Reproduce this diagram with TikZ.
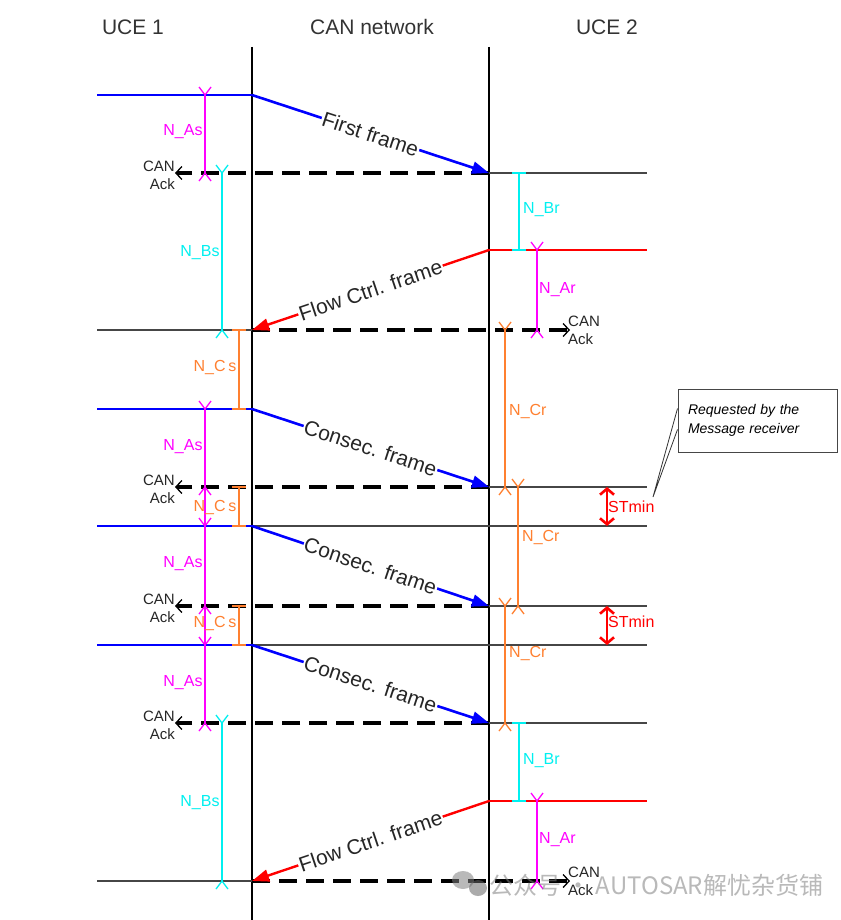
\documentclass[tikz,border=0pt]{standalone}
\usepackage{fontspec}
\setmainfont{Liberation Sans}
\newfontfamily\cjkfont{Noto Sans CJK SC}
\usetikzlibrary{arrows.meta}
\definecolor{ncor}{RGB}{255,128,48}
\definecolor{nmag}{RGB}{255,0,255}
\definecolor{ncy}{RGB}{0,240,240}
\definecolor{thinline}{RGB}{70,70,70}
\tikzset{
  armsup/.pic={\draw (-6,-8) -- (0,0) -- (6,-8);},
  armsdn/.pic={\draw (-6,8) -- (0,0) -- (6,8);},
  flatbar/.pic={\draw[line width=2pt] (-7,0) -- (7,0);},
}
\begin{document}
\begin{tikzpicture}[x=1pt,y=-1pt,
  lifeline/.style={line width=2.6pt, black},
  gline/.style={line width=1.3pt, thinline},
  bline/.style={line width=2.6pt, blue},
  rline/.style={line width=2.4pt, red},
  bmsg/.style={line width=2.6pt, blue, -{Triangle[length=17pt,width=12pt]}},
  rmsg/.style={line width=2.4pt, red, -{Triangle[length=17pt,width=12pt]}},
  ack/.style={line width=3.6pt, black, dash pattern=on 18pt off 9pt, -{Straight Barb[length=6pt,width=13pt,line width=1.3pt]}},
  msglabel/.style={midway, sloped, fill=white, text=black!85, inner sep=1pt, font=\fontsize{21}{23}\selectfont},
  tbar/.style={line width=1.3pt},
  lbl/.style={font=\fontsize{16}{18}\selectfont, inner sep=0pt},
  acklbl/.style={font=\fontsize{15}{18}\selectfont, inner sep=0pt, text=black!85},
  head/.style={font=\fontsize{21}{23}\selectfont, text=black!80},
  stmin/.style={red, line width=2.6pt, {Straight Barb[length=6pt,width=14pt]}-{Straight Barb[length=6pt,width=14pt]}},
  callout/.style={draw=thinline, line width=1pt, minimum width=159pt, minimum height=63pt, inner xsep=10pt, text width=139pt, align=left, font=\itshape\fontsize{14}{19}\selectfont},
]
\useasboundingbox (0,0) rectangle (840,920);
\fill[white] (0,0) rectangle (840,920);

% headers
\node[head] (h1) at (133,27) {UCE 1};
\node[head] (h2) at (372,27) {CAN network};
\node[head] (h3) at (607,27) {UCE 2};

% lifelines
\coordinate (n1t) at (252,47); \coordinate (n1b) at (252,920);
\coordinate (n2t) at (489,47); \coordinate (n2b) at (489,920);
\draw[lifeline] (n1t) -- (n1b);
\draw[lifeline] (n2t) -- (n2b);

% level coordinates
\foreach \n/\y in {a/95,b/173,c/250,d/330,e/409,f/487,g/526,h/606,i/645,j/723,k/801,l/881}{
  \coordinate (L\n) at (97,\y);
  \coordinate (A\n) at (252,\y);
  \coordinate (B\n) at (489,\y);
  \coordinate (R\n) at (647,\y);
  \coordinate (Kl\n) at (175,\y);
  \coordinate (Kr\n) at (570,\y);
}

% horizontal state lines
\draw[bline] (La) -- (Aa);
\draw[bline] (Le) -- (Ae);
\draw[bline] (Lg) -- (Ag);
\draw[bline] (Li) -- (Ai);
\draw[rline] (Bc) -- (Rc);
\draw[rline] (Bk) -- (Rk);
\draw[gline] (Ld) -- (Ad);
\draw[gline] (Ll) -- (Al);
\draw[gline] (Bb) -- (Rb);
\draw[gline] (Bf) -- (Rf);
\draw[gline] (Ag) -- (Rg);
\draw[gline] (Bh) -- (Rh);
\draw[gline] (Ai) -- (Ri);
\draw[gline] (Bj) -- (Rj);

% CAN acks
\draw[ack] (Bb) -- (Klb);
\draw[ack] (Bf) -- (Klf);
\draw[ack] (Bh) -- (Klh);
\draw[ack] (Bj) -- (Klj);
\draw[ack] (Ad) -- (Krd);
\draw[ack] (Al) -- (Krl);
\foreach \n in {b,f,h,j}{
  \node[acklbl, anchor=east, align=right] (ackl\n) at ([yshift=-2pt]Kl\n) {CAN\\Ack};
}
\foreach \n in {d,l}{
  \node[acklbl, anchor=west, align=left] (ackr\n) at ([xshift=-2pt]Kr\n) {CAN\\Ack};
}

% messages
\draw[bmsg] (Aa) -- node[msglabel] (m1) {First frame} (Bb);
\draw[rmsg] (Bc) -- node[msglabel] (m2) {Flow Ctrl. frame} (Ad);
\draw[bmsg] (Ae) -- node[msglabel] (m3) {Consec. frame} (Bf);
\draw[bmsg] (Ag) -- node[msglabel] (m4) {Consec. frame} (Bh);
\draw[bmsg] (Ai) -- node[msglabel] (m5) {Consec. frame} (Bj);
\draw[rmsg] (Bk) -- node[msglabel] (m6) {Flow Ctrl. frame} (Al);

% ---- timing bars, sender side ----
% N_As
\coordinate (as1t) at (205,95); \coordinate (as1b) at (205,173);
\draw[tbar, nmag] (as1t) -- (as1b);
\pic[tbar, nmag] at (as1t) {armsup};
\pic[tbar, nmag] at (as1b) {armsdn};
\coordinate (as2t) at (205,409); \coordinate (as4b) at (205,723);
\draw[tbar, nmag] (as2t) -- (as4b);
\foreach \y in {409,526,645}{\pic[tbar, nmag] at (205,\y) {armsup};}
\foreach \y in {487,606,723}{\pic[tbar, nmag] at (205,\y) {armsdn};}
\node[lbl, nmag] (las1) at (183,132) {N\_As};
\node[lbl, nmag] (las2) at (183,447) {N\_As};
\node[lbl, nmag] (las3) at (183,564) {N\_As};
\node[lbl, nmag] (las4) at (183,683) {N\_As};

% N_Bs
\coordinate (bs1t) at (222,173); \coordinate (bs1b) at (222,330);
\coordinate (bs2t) at (222,723); \coordinate (bs2b) at (222,881);
\draw[tbar, ncy] (bs1t) -- (bs1b);
\draw[tbar, ncy] (bs2t) -- (bs2b);
\pic[tbar, ncy] at (bs1t) {armsup};
\pic[tbar, ncy] at (bs1b) {armsdn};
\pic[tbar, ncy] at (bs2t) {armsup};
\pic[tbar, ncy] at (bs2b) {armsdn};
\node[lbl, ncy] (lbs1) at (200,253) {N\_Bs};
\node[lbl, ncy] (lbs2) at (200,803) {N\_Bs};

% N_Cs
\foreach \t/\b/\ly/\k in {330/409/368/1,487/526/507/2,606/645/623/3}{
  \coordinate (cs\k t) at (239,\t); \coordinate (cs\k b) at (239,\b);
  \draw[tbar, ncor] (cs\k t) -- (cs\k b);
  \pic[ncor] at (cs\k t) {flatbar};
  \pic[ncor] at (cs\k b) {flatbar};
  \node[lbl, ncor] (lcs\k) at (215,\ly) {N\_C\,s};
}

% ---- timing bars, receiver side ----
% N_Br
\foreach \t/\b/\ly/\k in {173/250/210/1,723/801/761/2}{
  \coordinate (br\k t) at (519,\t); \coordinate (br\k b) at (519,\b);
  \draw[tbar, ncy] (br\k t) -- (br\k b);
  \pic[ncy] at (br\k t) {flatbar};
  \pic[ncy] at (br\k b) {flatbar};
  \node[lbl, ncy, anchor=west] (lbr\k) at (523,\ly) {N\_Br};
}
% N_Ar
\foreach \t/\b/\ly/\k in {250/330/290/1,801/881/840/2}{
  \coordinate (ar\k t) at (537,\t); \coordinate (ar\k b) at (537,\b);
  \draw[tbar, nmag] (ar\k t) -- (ar\k b);
  \pic[tbar, nmag] at (ar\k t) {armsup};
  \pic[tbar, nmag] at (ar\k b) {armsdn};
  \node[lbl, nmag, anchor=west] (lar\k) at (539,\ly) {N\_Ar};
}
% N_Cr
\foreach \x/\t/\b/\ly/\k in {505/330/487/412/1,518/487/606/537/2,505/606/723/653/3}{
  \coordinate (cr\k t) at (\x,\t); \coordinate (cr\k b) at (\x,\b);
  \draw[tbar, ncor] (cr\k t) -- (cr\k b);
  \pic[tbar, ncor] at (cr\k t) {armsup};
  \pic[tbar, ncor] at (cr\k b) {armsdn};
  \node[lbl, ncor, anchor=west] (lcr\k) at ([xshift=4pt]\x,\ly) {N\_Cr};
}

% STmin
\coordinate (st1t) at (607,487); \coordinate (st1b) at (607,526);
\coordinate (st2t) at (607,606); \coordinate (st2b) at (607,645);
\draw[stmin] (st1t) -- (st1b);
\draw[stmin] (st2t) -- (st2b);
\node[lbl, red, anchor=west] (lst1) at (608,507) {STmin};
\node[lbl, red, anchor=west] (lst2) at (608,622) {STmin};

% callout
\node[callout] (cb) at (757.5,420.5) {Requested by the\\Message receiver};
\coordinate (cbp) at (653,497);
\draw[line width=0.8pt, black!80] ([yshift=-9pt]cb.west) -- (cbp) -- ([yshift=12pt]cb.west);

% watermark
\begin{scope}[opacity=0.55]
  \fill[gray] (463,880) ellipse (11 and 9);
  \fill[gray!80!black] (478,888) ellipse (9 and 8);
  \node[anchor=west, text=gray, font=\cjkfont\fontsize{24}{26}\selectfont, inner sep=0pt] (wm) at (489,885) {公众号 · AUTOSAR解忧杂货铺};
\end{scope}
\end{tikzpicture}
\end{document}
